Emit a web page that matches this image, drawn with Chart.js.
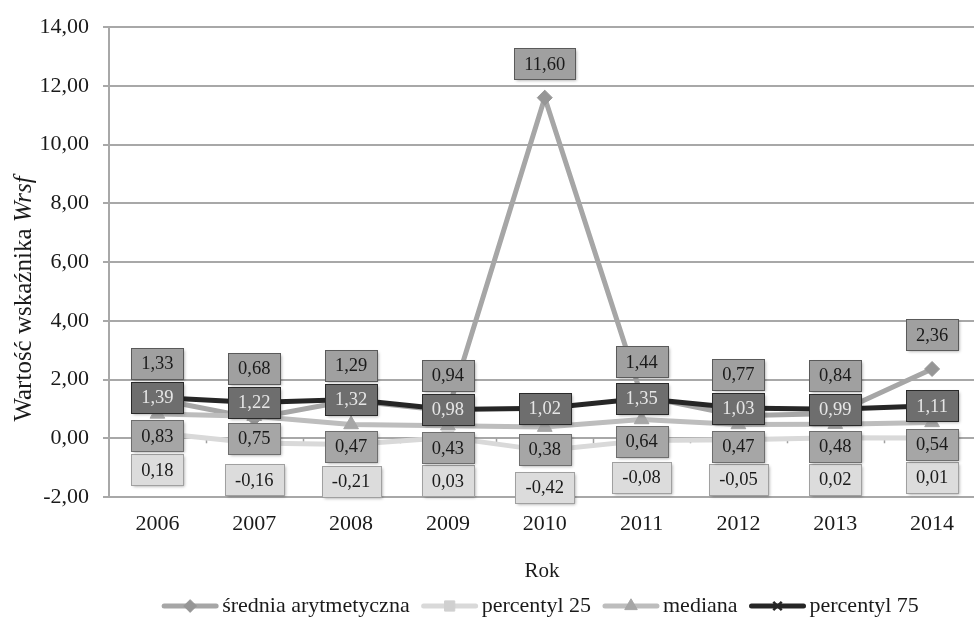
<!DOCTYPE html>
<html>
<head>
<meta charset="utf-8">
<script src="https://cdn.jsdelivr.net/npm/chart.js@4/dist/chart.umd.min.js"></script>
<style>
html,body{margin:0;padding:0;background:#fff;overflow:hidden;width:974px;height:627px;}
#wrap{position:absolute;left:0;top:0;width:990px;height:627px;}
</style>
</head>
<body>
<div id="wrap"><canvas id="c" width="990" height="627"></canvas></div>
<script>
const categories = ['2006','2007','2008','2009','2010','2011','2012','2013','2014'];
const seriesNames = ['średnia arytmetyczna','percentyl 25','mediana','percentyl 75'];
const sredniaVals = [1.33,0.68,1.29,0.94,11.60,1.44,0.77,0.84,2.36];
const p25Vals = [0.18,-0.16,-0.21,0.03,-0.42,-0.08,-0.05,0.02,0.01];
const medianaVals = [0.83,0.75,0.47,0.43,0.38,0.64,0.47,0.48,0.54];
const p75Vals = [1.39,1.22,1.32,0.98,1.02,1.35,1.03,0.99,1.11];
const yMin = -2, yMax = 14, yStep = 2;
const xTitle = 'Rok';
const yTitleMain = 'Wartość wskaźnika ';
const yTitleItalic = 'Wrsf';

const FONT = "'Liberation Serif','Times New Roman',serif";
const fmt = v => v.toFixed(2).replace('.', ',');

const styles = [
  {line:'#a6a6a6', point:'#969696', ps:'rectRot', r:7.5, bw:1, lblBg:'#a0a0a0', lblBorder:'#5a5a5a', lblText:'#1a1a1a', off:-34},
  {line:'#d9d9d9', point:'#d0d0d0', ps:'rect', r:8.5, bw:1, lblBg:'#dcdcdc', lblBorder:'#a0a0a0', lblText:'#1a1a1a', off:37},
  {line:'#bdbdbd', point:'#a6a6a6', ps:'triangle', r:8.5, bw:1, lblBg:'#a6a6a6', lblBorder:'#6e6e6e', lblText:'#1a1a1a', off:22},
  {line:'#262626', point:'#262626', ps:'crossRot', r:7, bw:2.5, lblBg:'#6e6e6e', lblBorder:'#2a2a2a', lblText:'#e6e6e6', off:0}
];
const values = [sredniaVals, p25Vals, medianaVals, p75Vals];

const datasets = values.map((vals, i) => ({
  label: seriesNames[i],
  data: vals,
  borderColor: styles[i].line,
  backgroundColor: styles[i].point,
  pointBorderColor: styles[i].point,
  pointBackgroundColor: styles[i].point,
  pointStyle: styles[i].ps,
  pointRadius: styles[i].r,
  pointBorderWidth: styles[i].bw,
  borderWidth: 5,
  tension: 0,
  order: 4 - i
}));

const LBL_H = 31;

const extrasPlugin = {
  id: 'extras',
  beforeDatasetsDraw(chart) {
    const ctx = chart.ctx, ca = chart.chartArea, ys = chart.scales.y;
    const y0 = ys.getPixelForValue(0);
    const n = categories.length;
    const sp = (ca.right - ca.left) / n;
    ctx.save();
    ctx.strokeStyle = '#a0a0a0';
    ctx.lineWidth = 1.5;
    for (let i = 1; i < n; i++) {
      const x = Math.round(ca.left + i * sp) + 0.5;
      ctx.beginPath(); ctx.moveTo(x, y0); ctx.lineTo(x, y0 + 5); ctx.stroke();
    }
    ctx.restore();
  },
  afterDatasetsDraw(chart) {
    const ctx = chart.ctx;
    ctx.save();
    ctx.font = '18.5px ' + FONT;
    ctx.textAlign = 'center';
    ctx.textBaseline = 'middle';
    const metas = [0,1,2,3].map(i => chart.getDatasetMeta(i));
    const n = categories.length;
    const centres = [[],[],[],[]];
    for (let j = 0; j < n; j++) {
      const p75y = metas[3].data[j].y;
      centres[3][j] = p75y;
      const p75Top = p75y - LBL_H / 2, p75Bot = p75y + LBL_H / 2;
      let my = metas[0].data[j].y + styles[0].off;
      if (my + LBL_H / 2 > p75Top - 3 && my - LBL_H / 2 < p75Bot) my = p75Top - 3 - LBL_H / 2;
      centres[0][j] = my;
      let dy = metas[2].data[j].y + styles[2].off;
      if (dy - LBL_H / 2 < p75Bot + 3) dy = p75Bot + 3 + LBL_H / 2;
      centres[2][j] = dy;
      let qy = metas[1].data[j].y + styles[1].off;
      const medBot = dy + LBL_H / 2;
      if (qy - LBL_H / 2 < medBot + 2) qy = medBot + 2 + LBL_H / 2;
      centres[1][j] = qy;
    }
    [0,1,2,3].forEach(di => {
      const st = styles[di];
      const ds = chart.data.datasets[di];
      metas[di].data.forEach((el, j) => {
        const txt = fmt(ds.data[j]);
        const w = Math.round(ctx.measureText(txt).width + 20);
        const h = LBL_H;
        const cx = el.x, cy = centres[di][j];
        const bx = Math.round(cx - w / 2), by = Math.round(cy - h / 2);
        ctx.save();
        ctx.shadowColor = 'rgba(0,0,0,0.35)';
        ctx.shadowBlur = 3;
        ctx.shadowOffsetX = 1.5;
        ctx.shadowOffsetY = 1.5;
        ctx.fillStyle = st.lblBg;
        ctx.fillRect(bx, by, w, h);
        ctx.restore();
        ctx.strokeStyle = st.lblBorder;
        ctx.lineWidth = 1;
        ctx.strokeRect(bx + 0.5, by + 0.5, w, h);
        ctx.fillStyle = st.lblText;
        ctx.fillText(txt, cx, cy + 1);
      });
    });
    ctx.restore();
  },
  afterDraw(chart) {
    const ctx = chart.ctx;
    ctx.save();
    ctx.fillStyle = '#1a1a1a';
    ctx.textBaseline = 'middle';
    ctx.translate(24, 299);
    ctx.rotate(-Math.PI / 2);
    const f1 = '25px ' + FONT, f2 = 'italic 25px ' + FONT;
    ctx.font = f1; const w1 = ctx.measureText(yTitleMain).width;
    ctx.font = f2; const w2 = ctx.measureText(yTitleItalic).width;
    const sx = -(w1 + w2) / 2;
    ctx.textAlign = 'left';
    ctx.font = f1; ctx.fillText(yTitleMain, sx, 0);
    ctx.font = f2; ctx.fillText(yTitleItalic, sx + w1, 0);
    ctx.restore();

    ctx.save();
    ctx.fillStyle = '#1a1a1a';
    ctx.font = '21px ' + FONT;
    ctx.textAlign = 'center';
    ctx.textBaseline = 'middle';
    ctx.fillText(xTitle, 542, 571);
    ctx.restore();

    ctx.save();
    ctx.font = '22px ' + FONT;
    const symW = 58, gapT = 3, gapI = 11;
    const widths = seriesNames.map(s => ctx.measureText(s).width);
    let total = 0;
    widths.forEach((w, i) => { total += symW + gapT + w + (i < widths.length - 1 ? gapI : 0); });
    let x = 540 - total / 2;
    const ly = 606;
    seriesNames.forEach((name, i) => {
      const st = styles[i];
      ctx.strokeStyle = st.line;
      ctx.lineWidth = 5;
      ctx.lineCap = 'round';
      ctx.beginPath(); ctx.moveTo(x + 3, ly); ctx.lineTo(x + symW - 3, ly); ctx.stroke();
      ctx.lineCap = 'butt';
      ctx.fillStyle = st.point;
      ctx.strokeStyle = st.point;
      ctx.lineWidth = st.bw;
      Chart.helpers.drawPoint(ctx, {pointStyle: st.ps, radius: st.r * 0.85, rotation: 0, borderWidth: st.bw}, x + symW / 2, ly);
      ctx.fillStyle = '#1a1a1a';
      ctx.textAlign = 'left';
      ctx.textBaseline = 'middle';
      ctx.fillText(name, x + symW + gapT, ly);
      x += symW + gapT + widths[i] + gapI;
    });
    ctx.restore();
  }
};

new Chart(document.getElementById('c'), {
  type: 'line',
  data: { labels: categories, datasets },
  options: {
    responsive: false,
    devicePixelRatio: 1,
    animation: false,
    layout: { padding: { left: 0, top: 23, right: 8.5, bottom: 0 } },
    plugins: { legend: { display: false }, tooltip: { enabled: false } },
    scales: {
      x: {
        offset: true,
        grid: { display: false, drawTicks: false },
        border: { display: false },
        ticks: { color: '#1a1a1a', font: { family: FONT, size: 22 }, padding: 14, maxRotation: 0 },
        afterFit(s) { s.height = 130; }
      },
      y: {
        min: yMin, max: yMax,
        ticks: { stepSize: yStep, color: '#1a1a1a', font: { family: FONT, size: 22 }, padding: 14, callback: v => fmt(v) },
        grid: { color: '#a8a8a8', lineWidth: 2, tickLength: 6, drawTicks: true },
        border: { display: true, color: '#a8a8a8', width: 2 },
        afterFit(s) { s.width = 109; }
      }
    }
  },
  plugins: [extrasPlugin]
});
</script>
</body>
</html>
